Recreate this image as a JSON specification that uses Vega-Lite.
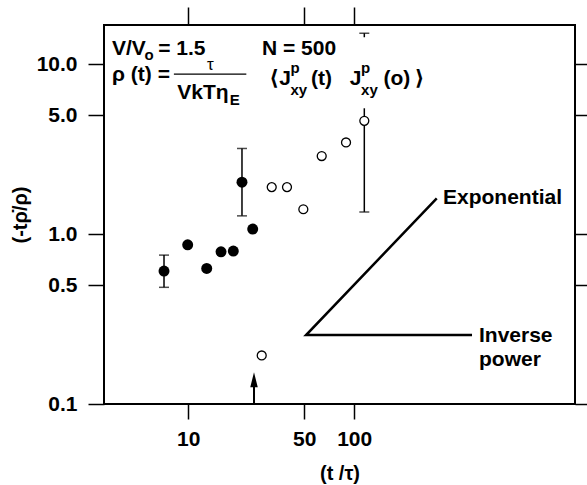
{
  "$schema": "https://vega.github.io/schema/vega-lite/v6.json",
  "width": 471,
  "height": 379,
  "autosize": {"type": "none"},
  "padding": {"left": 104, "top": 25, "right": 12, "bottom": 81},
  "background": "white",
  "config": {
    "view": {"stroke": "black", "strokeWidth": 2},
    "font": "Liberation Sans, DejaVu Sans, sans-serif",
    "axis": {
      "grid": false, "domain": false, "tickColor": "black", "tickWidth": 1.5,
      "labelColor": "black", "titleColor": "black",
      "labelFont": "Liberation Sans", "titleFont": "Liberation Sans, DejaVu Sans",
      "labelFontSize": 21, "labelFontWeight": "bold", "titleFontSize": 20, "titleFontWeight": "bold",
      "labelOverlap": false, "labelFlush": false, "labelBound": false
    }
  },
  "datasets": {
    "filled": [
      {"t": 7.15, "v": 0.606}, {"t": 9.93, "v": 0.865}, {"t": 12.93, "v": 0.628},
      {"t": 15.77, "v": 0.787}, {"t": 18.7, "v": 0.794}, {"t": 21.09, "v": 2.02},
      {"t": 24.47, "v": 1.07}
    ],
    "open": [
      {"t": 27.73, "v": 0.193}, {"t": 31.86, "v": 1.89}, {"t": 39.38, "v": 1.89},
      {"t": 49.39, "v": 1.40}, {"t": 63.74, "v": 2.88}, {"t": 89.3, "v": 3.46},
      {"t": 115.1, "v": 4.64}
    ],
    "bars": [
      {"t": 7.15, "lo": 0.486, "hi": 0.752}, {"t": 21.09, "lo": 1.28, "hi": 3.19},
      {"t": 115.1, "lo": 1.35, "hi": 5.5}, {"t": 115.1, "lo": 14.4, "hi": 15.2}
    ],
    "caps": [
      {"t": 7.15, "v": 0.486}, {"t": 7.15, "v": 0.752}, {"t": 21.09, "v": 1.28},
      {"t": 21.09, "v": 3.19}, {"t": 115.1, "v": 1.35}, {"t": 115.1, "v": 15.2}
    ],
    "guides": [
      {"t": 314.4, "v": 1.622, "k": 1}, {"t": 51.3, "v": 0.2546, "k": 2}, {"t": 512.8, "v": 0.2546, "k": 3}
    ],
    "arrow": [{"t": 24.92, "lo": 0.1, "hi": 0.135, "head": 0.139}],
    "frac": [{"t": 8.2, "t2": 22.4, "v": 8.73}],
    "labels": [
      {"t": 3.475, "v": 11.35, "text": "V/V", "kind": "main"},
      {"t": 5.45, "v": 10.63, "text": "o", "kind": "small"},
      {"t": 6.6, "v": 11.35, "text": "= 1.5", "kind": "main"},
      {"t": 27.85, "v": 11.35, "text": "N = 500", "kind": "main"},
      {"t": 3.475, "v": 7.94, "text": "ρ (t) =", "kind": "main"},
      {"t": 13.6, "v": 9.22, "text": "τ", "kind": "tau"},
      {"t": 8.6, "v": 6.22, "text": "VkTη", "kind": "main"},
      {"t": 17.8, "v": 5.74, "text": "E", "kind": "small"},
      {"t": 30.8, "v": 7.5, "text": "⟨", "kind": "main"},
      {"t": 35.4, "v": 7.5, "text": "J", "kind": "main"},
      {"t": 41.3, "v": 8.85, "text": "p", "kind": "small"},
      {"t": 41.3, "v": 6.6, "text": "xy", "kind": "small"},
      {"t": 55.0, "v": 7.5, "text": "(t)", "kind": "main"},
      {"t": 94.0, "v": 7.5, "text": "J", "kind": "main"},
      {"t": 110.0, "v": 8.85, "text": "p", "kind": "small"},
      {"t": 110.0, "v": 6.6, "text": "xy", "kind": "small"},
      {"t": 150.0, "v": 7.5, "text": "(o)", "kind": "main"},
      {"t": 232, "v": 7.5, "text": "⟩", "kind": "main"},
      {"t": 343, "v": 1.50, "text": "Exponential", "kind": "main"},
      {"t": 565, "v": 0.232, "text": "Inverse", "kind": "main"},
      {"t": 565, "v": 0.167, "text": "power", "kind": "main"}
    ]
  },
  "resolve": {"scale": {"x": "shared", "y": "shared"}, "axis": {"x": "independent", "y": "independent"}},
  "layer": [
    {
      "data": {"name": "bars"},
      "mark": {"type": "rule", "color": "black", "strokeWidth": 1.5},
      "encoding": {
        "x": {"field": "t", "type": "quantitative",
              "scale": {"type": "log", "domain": [3.11, 2140], "nice": false, "zero": false},
              "axis": {"orient": "bottom", "values": [10, 50, 100], "format": "d", "tickSize": 15, "labelPadding": 9, "title": "(t /τ)", "titlePadding": 14}},
        "y": {"field": "lo", "type": "quantitative",
              "scale": {"type": "log", "domain": [0.1, 17], "nice": false, "zero": false},
              "axis": {"orient": "left", "values": [0.1, 0.5, 1, 5, 10], "format": ".1f", "tickSize": 16, "labelPadding": 11, "title": "(-tρ̇/ρ)", "titlePadding": 6}},
        "y2": {"field": "hi"}
      }
    },
    {
      "data": {"name": "caps"},
      "mark": {"type": "tick", "orient": "horizontal", "color": "black", "size": 10, "thickness": 1.5},
      "encoding": {
        "x": {"field": "t", "type": "quantitative",
              "axis": {"orient": "top", "values": [10, 50, 100], "labels": false, "tickSize": 18, "title": null}},
        "y": {"field": "v", "type": "quantitative",
              "axis": {"orient": "right", "values": [0.1, 0.5, 1, 5, 10], "labels": false, "tickSize": 13, "title": null}}
      }
    },
    {
      "data": {"name": "filled"},
      "mark": {"type": "point", "shape": "circle", "filled": true, "color": "black", "size": 120, "opacity": 1},
      "encoding": {
        "x": {"field": "t", "type": "quantitative", "axis": null},
        "y": {"field": "v", "type": "quantitative", "axis": null}
      }
    },
    {
      "data": {"name": "open"},
      "mark": {"type": "point", "shape": "circle", "filled": false, "fill": "white", "fillOpacity": 1, "stroke": "black", "strokeWidth": 1.3, "size": 80, "opacity": 1},
      "encoding": {
        "x": {"field": "t", "type": "quantitative", "axis": null},
        "y": {"field": "v", "type": "quantitative", "axis": null}
      }
    },
    {
      "data": {"name": "guides"},
      "mark": {"type": "line", "color": "black", "strokeWidth": 2.5},
      "encoding": {
        "x": {"field": "t", "type": "quantitative", "axis": null},
        "y": {"field": "v", "type": "quantitative", "axis": null},
        "order": {"field": "k", "type": "quantitative"}
      }
    },
    {
      "data": {"name": "arrow"},
      "mark": {"type": "rule", "color": "black", "strokeWidth": 2},
      "encoding": {
        "x": {"field": "t", "type": "quantitative", "axis": null},
        "y": {"field": "lo", "type": "quantitative", "axis": null},
        "y2": {"field": "hi"}
      }
    },
    {
      "data": {"name": "arrow"},
      "mark": {"type": "point", "shape": "M0,-1L0.5,1L-0.5,1Z", "filled": true, "color": "black", "size": 225, "opacity": 1},
      "encoding": {
        "x": {"field": "t", "type": "quantitative", "axis": null},
        "y": {"field": "head", "type": "quantitative", "axis": null}
      }
    },
    {
      "data": {"name": "frac"},
      "mark": {"type": "rule", "color": "black", "strokeWidth": 1.3},
      "encoding": {
        "x": {"field": "t", "type": "quantitative", "axis": null},
        "x2": {"field": "t2"},
        "y": {"field": "v", "type": "quantitative", "axis": null}
      }
    },
    {
      "data": {"name": "labels"},
      "transform": [{"filter": "datum.kind === 'main'"}],
      "mark": {"type": "text", "align": "left", "baseline": "alphabetic", "fontSize": 21, "fontWeight": "bold", "color": "black", "font": "Liberation Sans, DejaVu Sans, sans-serif"},
      "encoding": {
        "x": {"field": "t", "type": "quantitative", "axis": null},
        "y": {"field": "v", "type": "quantitative", "axis": null},
        "text": {"field": "text"}
      }
    },
    {
      "data": {"name": "labels"},
      "transform": [{"filter": "datum.kind === 'small'"}],
      "mark": {"type": "text", "align": "left", "baseline": "alphabetic", "fontSize": 15, "fontWeight": "bold", "color": "black", "font": "Liberation Sans, DejaVu Sans, sans-serif"},
      "encoding": {
        "x": {"field": "t", "type": "quantitative", "axis": null},
        "y": {"field": "v", "type": "quantitative", "axis": null},
        "text": {"field": "text"}
      }
    },
    {
      "data": {"name": "labels"},
      "transform": [{"filter": "datum.kind === 'tau'"}],
      "mark": {"type": "text", "align": "center", "baseline": "alphabetic", "fontSize": 17, "color": "black", "font": "Liberation Sans, DejaVu Sans, sans-serif"},
      "encoding": {
        "x": {"field": "t", "type": "quantitative", "axis": null},
        "y": {"field": "v", "type": "quantitative", "axis": null},
        "text": {"field": "text"}
      }
    }
  ]
}
